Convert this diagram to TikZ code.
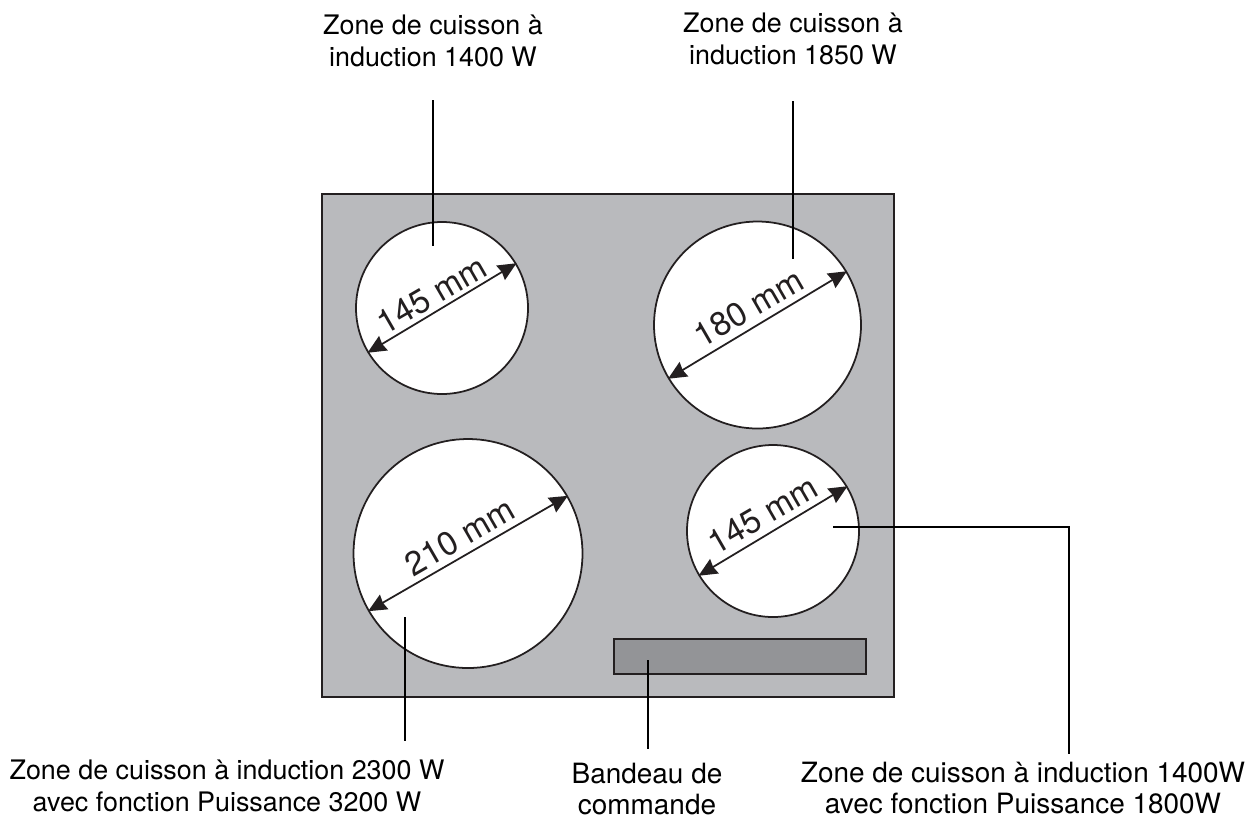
\documentclass[tikz,border=0pt]{standalone}
\usepackage{fontspec}
\setmainfont{TeX Gyre Heros}
\usetikzlibrary{arrows.meta}
\definecolor{hobgray}{HTML}{B9BABD}
\definecolor{stripgray}{HTML}{939497}
\definecolor{inkdark}{HTML}{231F20}
\begin{document}
\begin{tikzpicture}[x=0.02cm,y=-0.02cm,
 zone/.style={circle,draw=inkdark,line width=1pt,fill=white,inner sep=0pt,minimum size=#1*0.02cm},
 lbl/.style={align=center,font=\fontsize{15.3}{18.2}\selectfont,inner sep=0pt,text=black},
 lblb/.style={align=center,font=\fontsize{15.9}{18.2}\selectfont,inner sep=0pt,text=black},
 dimline/.style={draw=inkdark,line width=1pt,{Stealth[length=10.5pt,width=9.5pt,inset=0.8pt]}-{Stealth[length=10.5pt,width=9.5pt,inset=0.8pt]}},
 lead/.style={draw=black,line width=1.1pt},
 dimt/.style={font=\fontsize{19}{22}\selectfont,inner sep=0pt,text=inkdark,rotate=30}]
\useasboundingbox (0,0) rectangle (1254,823);
\node[draw=inkdark,line width=0.9pt,fill=hobgray,inner sep=0pt,minimum width=572*0.02cm,minimum height=503*0.02cm] (hob) at (608,445.5) {};
\node[draw=inkdark,line width=1pt,fill=stripgray,inner sep=0pt,minimum width=252*0.02cm,minimum height=35*0.02cm] (strip) at (740,656.5) {};
\node[zone=172] (z1) at (442,308) {};
\node[zone=207] (z2) at (757.5,325) {};
\node[zone=229] (z3) at (468,553.5) {};
\node[zone=172] (z4) at (773,531) {};
\draw[dimline] (z1.211) -- (z1.31);
\draw[dimline] (z2.211) -- (z2.31);
\draw[dimline] (z3.210) -- (z3.30);
\draw[dimline] (z4.211) -- (z4.31);
\node[dimt] (t1) at (432,295) {145 mm};
\node[dimt] (t2) at (749,308) {180 mm};
\node[dimt] (t3) at (460,537) {210 mm};
\node[dimt] (t4) at (763,515) {145 mm};
\node[lbl] (l1) at (433,41) {Zone de cuisson à\\induction 1400 W};
\node[lbl] (l2) at (793,39) {Zone de cuisson à\\induction 1850 W};
\node[lbl] (l3) at (227,786) {Zone de cuisson à induction 2300 W\\avec fonction Puissance 3200 W};
\node[lblb] (l4) at (647,789) {Bandeau de\\commande};
\node[lblb] (l5) at (1023,788) {Zone de cuisson à induction 1400W\\avec fonction Puissance 1800W};
\coordinate (c1) at (433,246);
\coordinate (c2) at (793,259);
\coordinate (c3) at (405,617);
\coordinate (c4) at (648,660);
\coordinate (c5) at (833,527);
\coordinate (k5) at (1069,754);
\draw[lead,shorten <=33*0.02cm] (l1.south -| c1) -- (c1);
\draw[lead,shorten <=36*0.02cm] (l2.south -| c2) -- (c2);
\draw[lead,shorten >=19*0.02cm] (c3) -- (c3 |- l3.north);
\draw[lead,shorten >=13*0.02cm] (c4) -- (c4 |- l4.north);
\draw[lead] (c5) -| (k5);
\end{tikzpicture}
\end{document}
